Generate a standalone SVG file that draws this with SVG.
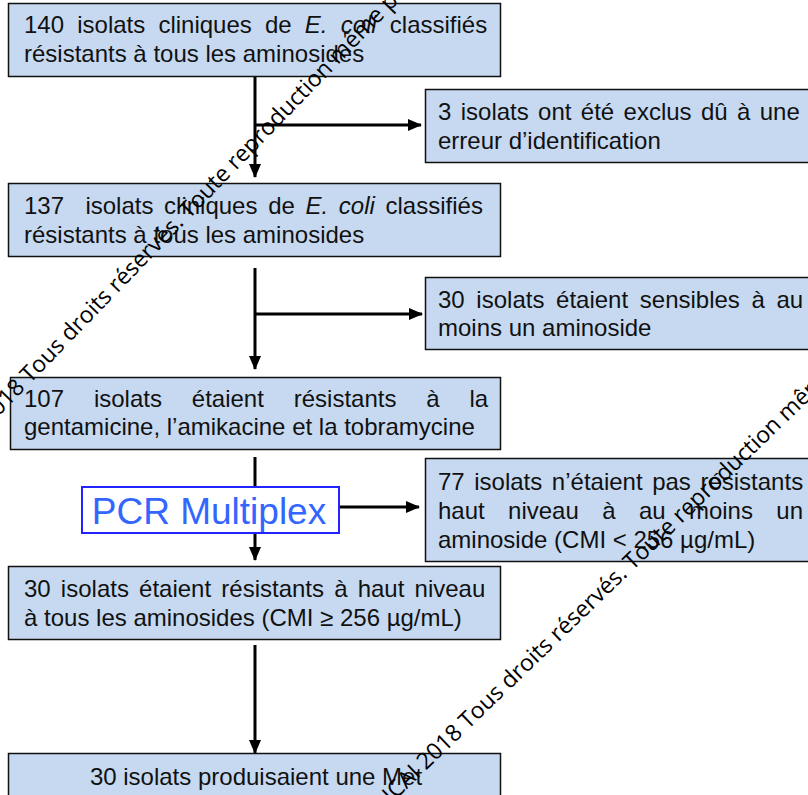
<svg xmlns="http://www.w3.org/2000/svg" width="808" height="795" viewBox="0 0 808 795">
<defs>
<style>
.box{fill:#c6d9f1;stroke:#111;stroke-width:1.5}
.t{font-family:"Liberation Sans",Arial,sans-serif;font-size:24px;fill:#111}
.pre{white-space:pre}
.ln{stroke:#000;stroke-width:3;fill:none}
.wm{font-family:"Open Sans","DejaVu Sans",sans-serif;font-size:23px;fill:#000;white-space:pre}
</style>
<marker id="ah" markerUnits="userSpaceOnUse" markerWidth="14" markerHeight="12" refX="13" refY="6" orient="auto">
<path d="M0,0 L14,6 L0,12 Z" fill="#000"/>
</marker>
</defs>
<rect width="808" height="795" fill="#fff"/>
<g id="connectors">
<line class="ln" x1="255" y1="77" x2="255" y2="177" marker-end="url(#ah)"/>
<line class="ln" x1="255" y1="125" x2="421" y2="125" marker-end="url(#ah)"/>
<line class="ln" x1="255" y1="268" x2="255" y2="369" marker-end="url(#ah)"/>
<line class="ln" x1="255" y1="314" x2="422" y2="314" marker-end="url(#ah)"/>
<line class="ln" x1="255" y1="457" x2="255" y2="560" marker-end="url(#ah)"/>
<line class="ln" x1="339" y1="507" x2="419" y2="507" marker-end="url(#ah)"/>
<line class="ln" x1="255" y1="645" x2="255" y2="753" marker-end="url(#ah)"/>
</g>
<g id="n1">
<rect class="box" x="8.5" y="3.5" width="492" height="73"/>
<text class="t" x="24" y="33" word-spacing="6.5">140 isolats cliniques de <tspan font-style="italic">E. coli</tspan> classifiés</text>
<text class="t" x="24" y="62">résistants à tous les aminosides</text>
</g>
<g id="n2">
<rect class="box" x="425.5" y="89.5" width="400" height="73"/>
<text class="t" x="438" y="120" word-spacing="2.7">3 isolats ont été exclus dû à une</text>
<text class="t" x="438" y="149">erreur d’identification</text>
</g>
<g id="n3">
<rect class="box" x="8.5" y="183.5" width="492" height="73"/>
<text class="t pre" x="24" y="214" word-spacing="4">137  isolats cliniques de <tspan font-style="italic">E. coli</tspan> classifiés</text>
<text class="t" x="24" y="243">résistants à tous les aminosides</text>
</g>
<g id="n4">
<rect class="box" x="425.5" y="277.5" width="400" height="72"/>
<text class="t" x="438" y="308" word-spacing="5">30 isolats étaient sensibles à au</text>
<text class="t" x="438" y="336">moins un aminoside</text>
</g>
<g id="n5">
<rect class="box" x="10.5" y="377.5" width="490" height="72"/>
<text class="t" x="24" y="407" word-spacing="23.2">107 isolats étaient résistants à la</text>
<text class="t" x="24" y="435">gentamicine, l’amikacine et la tobramycine</text>
</g>
<g id="n6">
<rect x="82" y="487" width="257" height="46" fill="#fff" stroke="#2323ff" stroke-width="2"/>
<text x="209" y="524" text-anchor="middle" font-family="Liberation Sans,Arial,sans-serif" font-size="37" fill="#3366ff">PCR Multiplex</text>
</g>
<g id="n7">
<rect class="box" x="425.5" y="458.5" width="400" height="103"/>
<text class="t" x="438" y="490" word-spacing="2.9">77 isolats n’étaient pas résistants</text>
<text class="t" x="438" y="519" word-spacing="16.7">haut niveau à au moins un</text>
<text class="t" x="438" y="548">aminoside (CMI &lt; 256 µg/mL)</text>
</g>
<g id="n8">
<rect class="box" x="8.5" y="566.5" width="492" height="73"/>
<text class="t" x="24" y="597" word-spacing="3.5">30 isolats étaient résistants à haut niveau</text>
<text class="t" x="24" y="626">à tous les aminosides (CMI ≥ 256 µg/mL)</text>
</g>
<g id="n9">
<rect class="box" x="8.5" y="753.5" width="492" height="60"/>
<text class="t" x="256" y="785" text-anchor="middle">30 isolats produisaient une Met</text>
</g>
<g id="watermark">
<g transform="translate(30,384) rotate(-46)">
<text class="wm" x="0" y="0" text-anchor="end">© RICAI 2018 </text>
<text class="wm" x="0" y="0">Tous droits réservés. Toute reproduction même partielle interdite.</text>
</g>
<g transform="translate(468,730) rotate(-44)">
<text class="wm" x="0" y="0" text-anchor="end">© RICAI 2018 </text>
<text class="wm" x="0" y="0">Tous droits réservés. Toute reproduction même partielle interdite.</text>
</g>
</g>
</svg>
